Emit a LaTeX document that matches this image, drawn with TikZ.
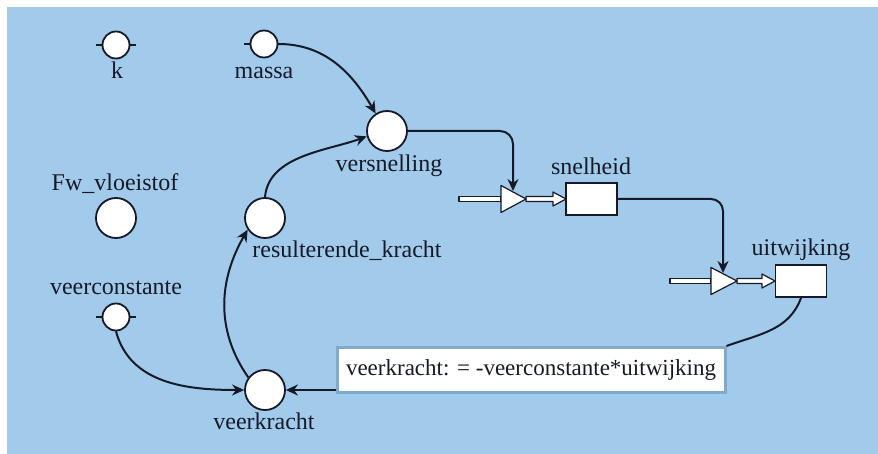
\documentclass[tikz,border=0pt]{standalone}
\usepackage{fontspec}
\setmainfont{Liberation Serif}
\usepackage{tikz}
\usetikzlibrary{arrows.meta}
\definecolor{modelblue}{RGB}{162,203,235}
\definecolor{inkdark}{RGB}{22,26,40}
\definecolor{boxedge}{RGB}{128,170,204}

\tikzset{
  aux/.style={circle, draw=inkdark, fill=white, line width=0.9pt, minimum size=20pt, inner sep=0pt},
  const/.style={aux, minimum size=13.5pt},
  stock/.style={rectangle, draw=inkdark, fill=white, line width=0.9pt, minimum width=25.5pt, minimum height=16pt, inner sep=0pt},
  lbl/.style={anchor=base, text=inkdark, font=\fontsize{12}{14}\selectfont, inner sep=0pt},
  lnk/.style={draw=inkdark, line width=1pt, -{Stealth[length=6pt,width=5.5pt]}},
  pipe/.style={draw=inkdark, fill=white, line width=0.6pt, line join=round},
  formula/.style={rectangle, draw=boxedge, fill=white, line width=1.5pt, minimum width=194pt, minimum height=22.5pt, text=inkdark, font=\fontsize{11.5}{14}\selectfont},
}

\begin{document}
\begin{tikzpicture}[x=0.5pt, y=-0.5pt]
    \useasboundingbox (0,0) rectangle (878,454);
    \fill[modelblue] (7,7) rectangle (878,454);

    % Constants
    \node[const] (k) at (116,45) {};
    \node[lbl] (kname) at (117,79) {k};
    \node[const] (massa) at (264,44) {};
    \node[lbl] (massaname) at (264,79) {massa};
    \node[const] (vc) at (116,317) {};
    \node[lbl] (vcname) at (116,294) {veerconstante};
    \draw[inkdark, line width=0.9pt] (k.west) -- ++(-6,0) (k.east) -- ++(6,0);
    \draw[inkdark, line width=0.9pt] (massa.west) -- ++(-6,0) (massa.east) -- ++(6,0);
    \draw[inkdark, line width=0.9pt] (vc.west) -- ++(-6,0) (vc.east) -- ++(6,0);

    % Auxiliaries
    \node[aux] (fw) at (116,218) {};
    \node[lbl] (fwname) at (115,191) {Fw\_vloeistof};
    \node[aux] (versn) at (387,131) {};
    \node[lbl] (versnname) at (389,172) {versnelling};
    \node[aux] (resk) at (265,218) {};
    \node[lbl] (reskname) at (347,257) {resulterende\_kracht};
    \node[aux] (veerk) at (265,390) {};
    \node[lbl] (veerkname) at (264,429) {veerkracht};

    % Stocks
    \node[stock] (snelh) at (591.5,199) {};
    \node[lbl] (snelhname) at (591,175) {snelheid};
    \node[stock] (uitw) at (801,281) {};
    \node[lbl] (uitwname) at (801,256) {uitwijking};

    % Flow into snelheid
    \begin{scope}[shift={(501,199)}]
        \draw[pipe] (-42,-2.5) rectangle (0,2.5);
        \draw[pipe] (25,-2.5) -- (52,-2.5) -- (52,-7) -- (65,0) -- (52,7) -- (52,2.5) -- (25,2.5) -- cycle;
        \draw[pipe] (0,-13.5) -- (25,0) -- (0,13.5) -- cycle;
        \coordinate (valveA) at (12,-8);
    \end{scope}

    % Flow into uitwijking
    \begin{scope}[shift={(711,281)}]
        \draw[pipe] (-41,-2.5) rectangle (0,2.5);
        \draw[pipe] (26,-2.5) -- (51,-2.5) -- (51,-7) -- (64,0) -- (51,7) -- (51,2.5) -- (26,2.5) -- cycle;
        \draw[pipe] (0,-13.5) -- (26,0) -- (0,13.5) -- cycle;
        \coordinate (valveB) at (12,-8);
    \end{scope}

    % Formula
    \node[formula] (fml) at (531,370) {veerkracht: = -veerconstante*uitwijking};

    % Links
    \draw[lnk] (massa.east) to[out=0, in=120] (versn.123);
    \draw[lnk] (resk.north) to[out=85, in=200, looseness=0.9] (versn.195);
    \draw[lnk] (veerk.143) to[out=125, in=240] (resk.214);
    \draw[lnk] (vc.south) to[out=-75, in=180] (veerk.west);
    \draw[lnk] (veerk.east -| fml.west) -- (veerk.east);
    \draw[lnk, rounded corners=6.5pt] (versn.east) -| (valveA);
    \draw[lnk, rounded corners=6pt] (snelh.east) -| (valveB);
    \draw[inkdark, line width=1pt] (uitw.south) to[out=-110, in=20] (fml.north east);
\end{tikzpicture}
\end{document}
